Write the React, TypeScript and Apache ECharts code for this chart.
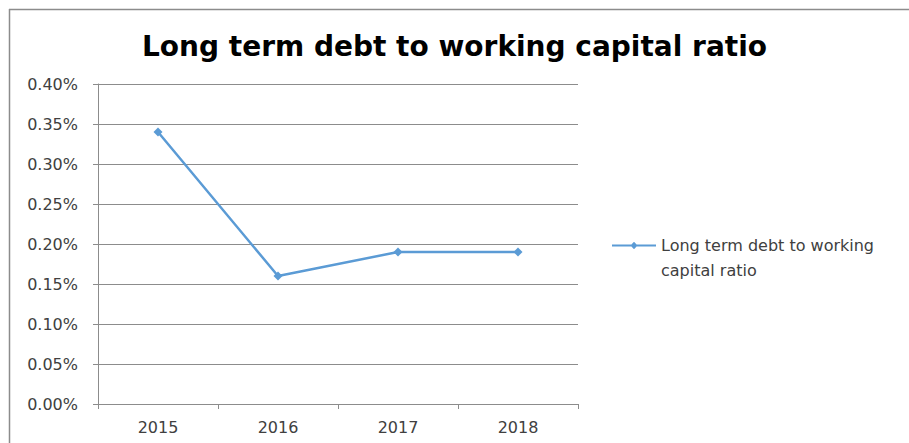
import React, { useEffect, useRef } from "react";
import * as echarts from "echarts";

const categories = ["2015", "2016", "2017", "2018"];
const seriesName = "Long term debt to working capital ratio";
const values = [0.34, 0.16, 0.19, 0.19];
const yTicks = [0, 0.05, 0.1, 0.15, 0.2, 0.25, 0.3, 0.35, 0.4];

// legend icon: line with a diamond, placed at the top of a 44x35 box (tiny corner marks set the box)
const legendIcon =
  "path://M0,0 L0.01,0 L0.01,0.01 Z M44,35 L43.99,35 L43.99,34.99 Z " +
  "M0,4 L44,4 L44,6 L0,6 Z M22,1.2 L25.5,5 L22,8.8 L18.5,5 Z";

export default function App() {
  const ref = useRef<HTMLDivElement>(null);
  useEffect(() => {
    const chart = echarts.init(ref.current!, null, { renderer: "svg" });
    chart.setOption({
      animation: false,
      backgroundColor: "#ffffff",
      title: {
        text: "Long term debt to working capital ratio",
        left: "center",
        top: 27,
        textStyle: {
          fontFamily: "DejaVu Sans",
          fontWeight: "bold",
          fontSize: 28,
          color: "#000000",
        },
      },
      graphic: [
        { type: "line", shape: { x1: 9, y1: 9.5, x2: 909, y2: 9.5 }, style: { stroke: "#8c8c8c", lineWidth: 1.5 } },
        { type: "line", shape: { x1: 9.5, y1: 9, x2: 9.5, y2: 443 }, style: { stroke: "#8c8c8c", lineWidth: 1.5 } },
      ],
      legend: {
        orient: "vertical",
        left: 607,
        top: 228,
        itemWidth: 44,
        itemHeight: 35,
        itemGap: 4,
        icon: legendIcon,
        data: [{ name: seriesName }],
        formatter: () => "Long term debt to working\ncapital ratio",
        textStyle: {
          fontFamily: "DejaVu Sans",
          fontSize: 16,
          color: "#404040",
          lineHeight: 25,
        },
      },
      grid: { left: 98, right: 331, top: 84, bottom: 39 },
      xAxis: {
        type: "category",
        data: categories,
        boundaryGap: true,
        axisLine: { lineStyle: { color: "#8c8c8c", width: 1 } },
        axisTick: { show: true, length: 5, lineStyle: { color: "#8c8c8c" } },
        axisLabel: {
          fontFamily: "DejaVu Sans",
          fontSize: 16,
          color: "#404040",
          margin: 15,
        },
      },
      yAxis: {
        type: "value",
        min: yTicks[0],
        max: yTicks[yTicks.length - 1],
        interval: 0.05,
        axisLine: { show: true, lineStyle: { color: "#8c8c8c", width: 1 } },
        axisTick: { show: true, length: 5, lineStyle: { color: "#8c8c8c" } },
        splitLine: { lineStyle: { color: "#8c8c8c", width: 1 } },
        axisLabel: {
          fontFamily: "DejaVu Sans",
          fontSize: 16,
          color: "#404040",
          margin: 20,
          formatter: (v: number) => v.toFixed(2) + "%",
        },
      },
      series: [
        {
          name: seriesName,
          type: "line",
          data: values,
          symbol: "diamond",
          symbolSize: 9,
          lineStyle: { color: "#5B9BD5", width: 2.5 },
          itemStyle: { color: "#5B9BD5" },
        },
      ],
    });
    return () => chart.dispose();
  }, []);
  return <div ref={ref} style={{ width: 909, height: 443, position: "absolute", left: 0, top: 0 }} />;
}
